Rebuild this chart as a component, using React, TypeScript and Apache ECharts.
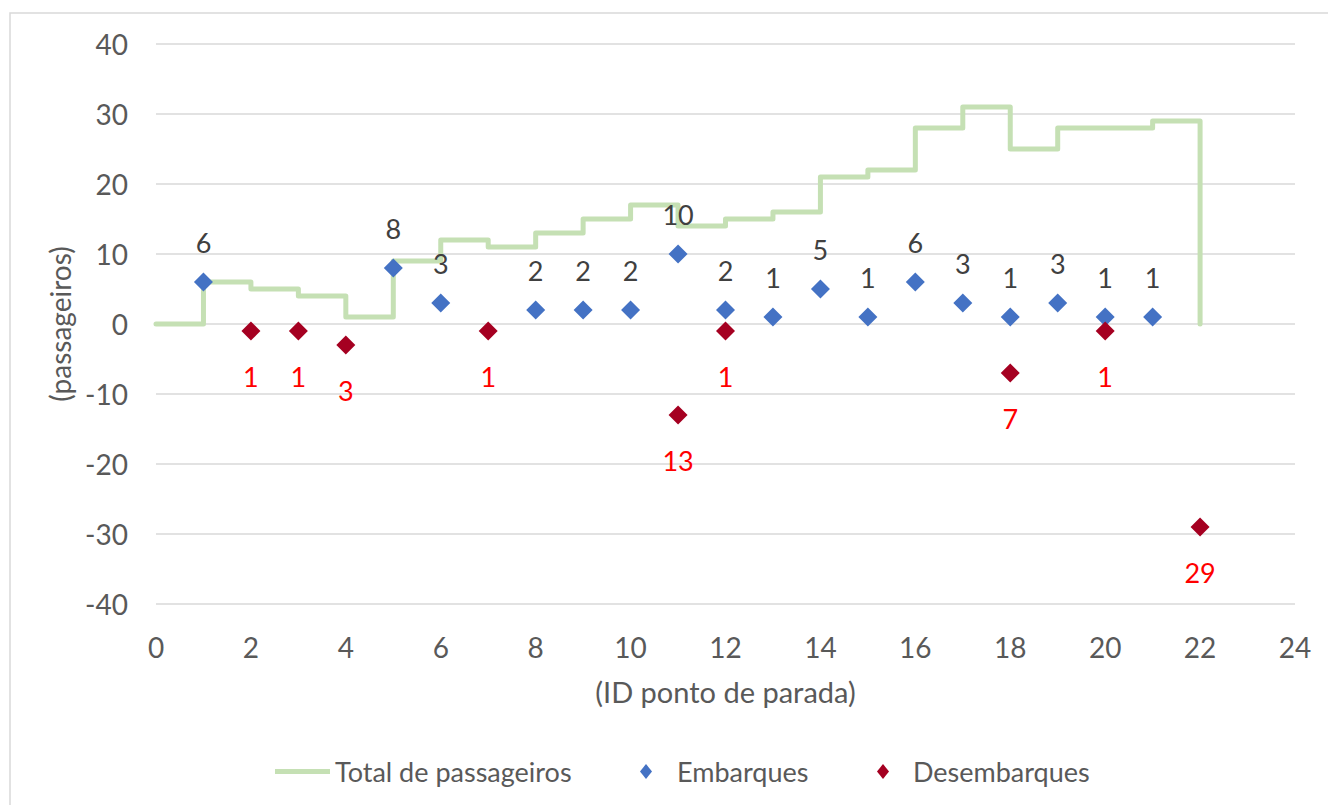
import React, { useEffect, useRef } from "react";
import * as echarts from "echarts";

// Stop IDs and running total of passengers (step line)
const stopIds = [0, 1, 2, 3, 4, 5, 6, 7, 8, 9, 10, 11, 12, 13, 14, 15, 16, 17, 18, 19, 20, 21, 22];
const totalPassengers = [0, 6, 5, 4, 1, 9, 12, 11, 13, 15, 17, 14, 15, 16, 21, 22, 28, 31, 25, 28, 28, 29, 0];

// Boardings
const boardingStops = [1, 5, 6, 8, 9, 10, 11, 12, 13, 14, 15, 16, 17, 18, 19, 20, 21];
const boardingValues = [6, 8, 3, 2, 2, 2, 10, 2, 1, 5, 1, 6, 3, 1, 3, 1, 1];

// Alightings (plotted negative)
const alightingStops = [2, 3, 4, 7, 11, 12, 18, 20, 22];
const alightingValues = [-1, -1, -3, -1, -13, -1, -7, -1, -29];

const FONT = "Lato, 'Open Sans', sans-serif";
const FS = 28;

export default function App() {
  const ref = useRef<HTMLDivElement>(null);

  useEffect(() => {
    document.body.style.margin = "0";
    if (!ref.current) return;
    const chart = echarts.init(ref.current, null, { renderer: "svg" });

    const lineData = stopIds.map((x, i) => [x, totalPassengers[i]]);
    const boardData = boardingStops.map((x, i) => [x, boardingValues[i]]);
    const alightData = alightingStops.map((x, i) => [x, alightingValues[i]]);

    const legendText = { color: "#595959", fontSize: 27, fontFamily: FONT };

    chart.setOption({
      animation: false,
      backgroundColor: "#ffffff",
      textStyle: { fontFamily: FONT },
      graphic: [
        {
          type: "rect",
          shape: { x: 10, y: 13, width: 1400, height: 900 },
          style: { fill: "none", stroke: "#D9D9D9", lineWidth: 1.5 },
          silent: true,
          z: -10,
        },
      ],
      grid: { left: 156, right: 33, top: 44, bottom: 201, containLabel: false },
      legend: [
        {
          data: [{ name: "Total de passageiros", icon: "rect", itemStyle: { color: "#C5E0B4" } }],
          left: 270,
          top: 753,
          itemWidth: 55,
          itemHeight: 5,
          textStyle: legendText,
        },
        {
          data: [{ name: "Embarques", icon: "diamond" }],
          left: 635,
          top: 753,
          itemWidth: 12,
          itemHeight: 15,
          textStyle: { ...legendText, padding: [0, 0, 0, 20] },
        },
        {
          data: [{ name: "Desembarques", icon: "diamond" }],
          left: 872,
          top: 753,
          itemWidth: 12,
          itemHeight: 15,
          textStyle: { ...legendText, padding: [0, 0, 0, 19] },
        },
      ],
      xAxis: {
        type: "value",
        min: 0,
        max: 24,
        interval: 2,
        name: "(ID ponto de parada)",
        nameLocation: "middle",
        nameGap: 73,
        nameTextStyle: { color: "#595959", fontSize: 29, fontFamily: FONT },
        axisLine: { show: false },
        axisTick: { show: false },
        axisLabel: { color: "#595959", fontSize: FS, margin: 29, fontFamily: FONT },
        splitLine: { show: false },
      },
      yAxis: {
        type: "value",
        min: -40,
        max: 40,
        interval: 10,
        name: "(passageiros)",
        nameLocation: "middle",
        nameGap: 76,
        nameTextStyle: { color: "#595959", fontSize: FS, fontFamily: FONT },
        axisLine: { show: false },
        axisTick: { show: false },
        axisLabel: { color: "#595959", fontSize: FS, margin: 28, fontFamily: FONT },
        splitLine: { show: true, lineStyle: { color: "#D9D9D9", width: 1.5 } },
      },
      series: [
        {
          name: "Total de passageiros",
          type: "line",
          step: "end",
          data: lineData,
          showSymbol: false,
          symbol: "none",
          lineStyle: { color: "#C5E0B4", width: 5, join: "round", cap: "round" },
          itemStyle: { color: "#C5E0B4" },
          emphasis: { disabled: true },
          z: 1,
        },
        {
          name: "Embarques",
          type: "scatter",
          data: boardData,
          symbol: "diamond",
          symbolSize: 19,
          itemStyle: { color: "#4472C4", opacity: 1 },
          emphasis: { disabled: true },
          label: {
            show: true,
            position: "top",
            distance: 17,
            color: "#404040",
            fontSize: 27,
            fontFamily: FONT,
            formatter: (p: any) => String(p.value[1]),
          },
          z: 3,
        },
        {
          name: "Desembarques",
          type: "scatter",
          data: alightData,
          symbol: "diamond",
          symbolSize: 19,
          itemStyle: { color: "#A50021", opacity: 1 },
          emphasis: { disabled: true },
          label: {
            show: true,
            position: "bottom",
            distance: 22,
            color: "#FF0000",
            fontSize: 27,
            fontFamily: FONT,
            formatter: (p: any) => String(Math.abs(p.value[1])),
          },
          z: 3,
        },
      ],
    });

    return () => chart.dispose();
  }, []);

  return <div ref={ref} style={{ width: 1328, height: 805 }} />;
}
